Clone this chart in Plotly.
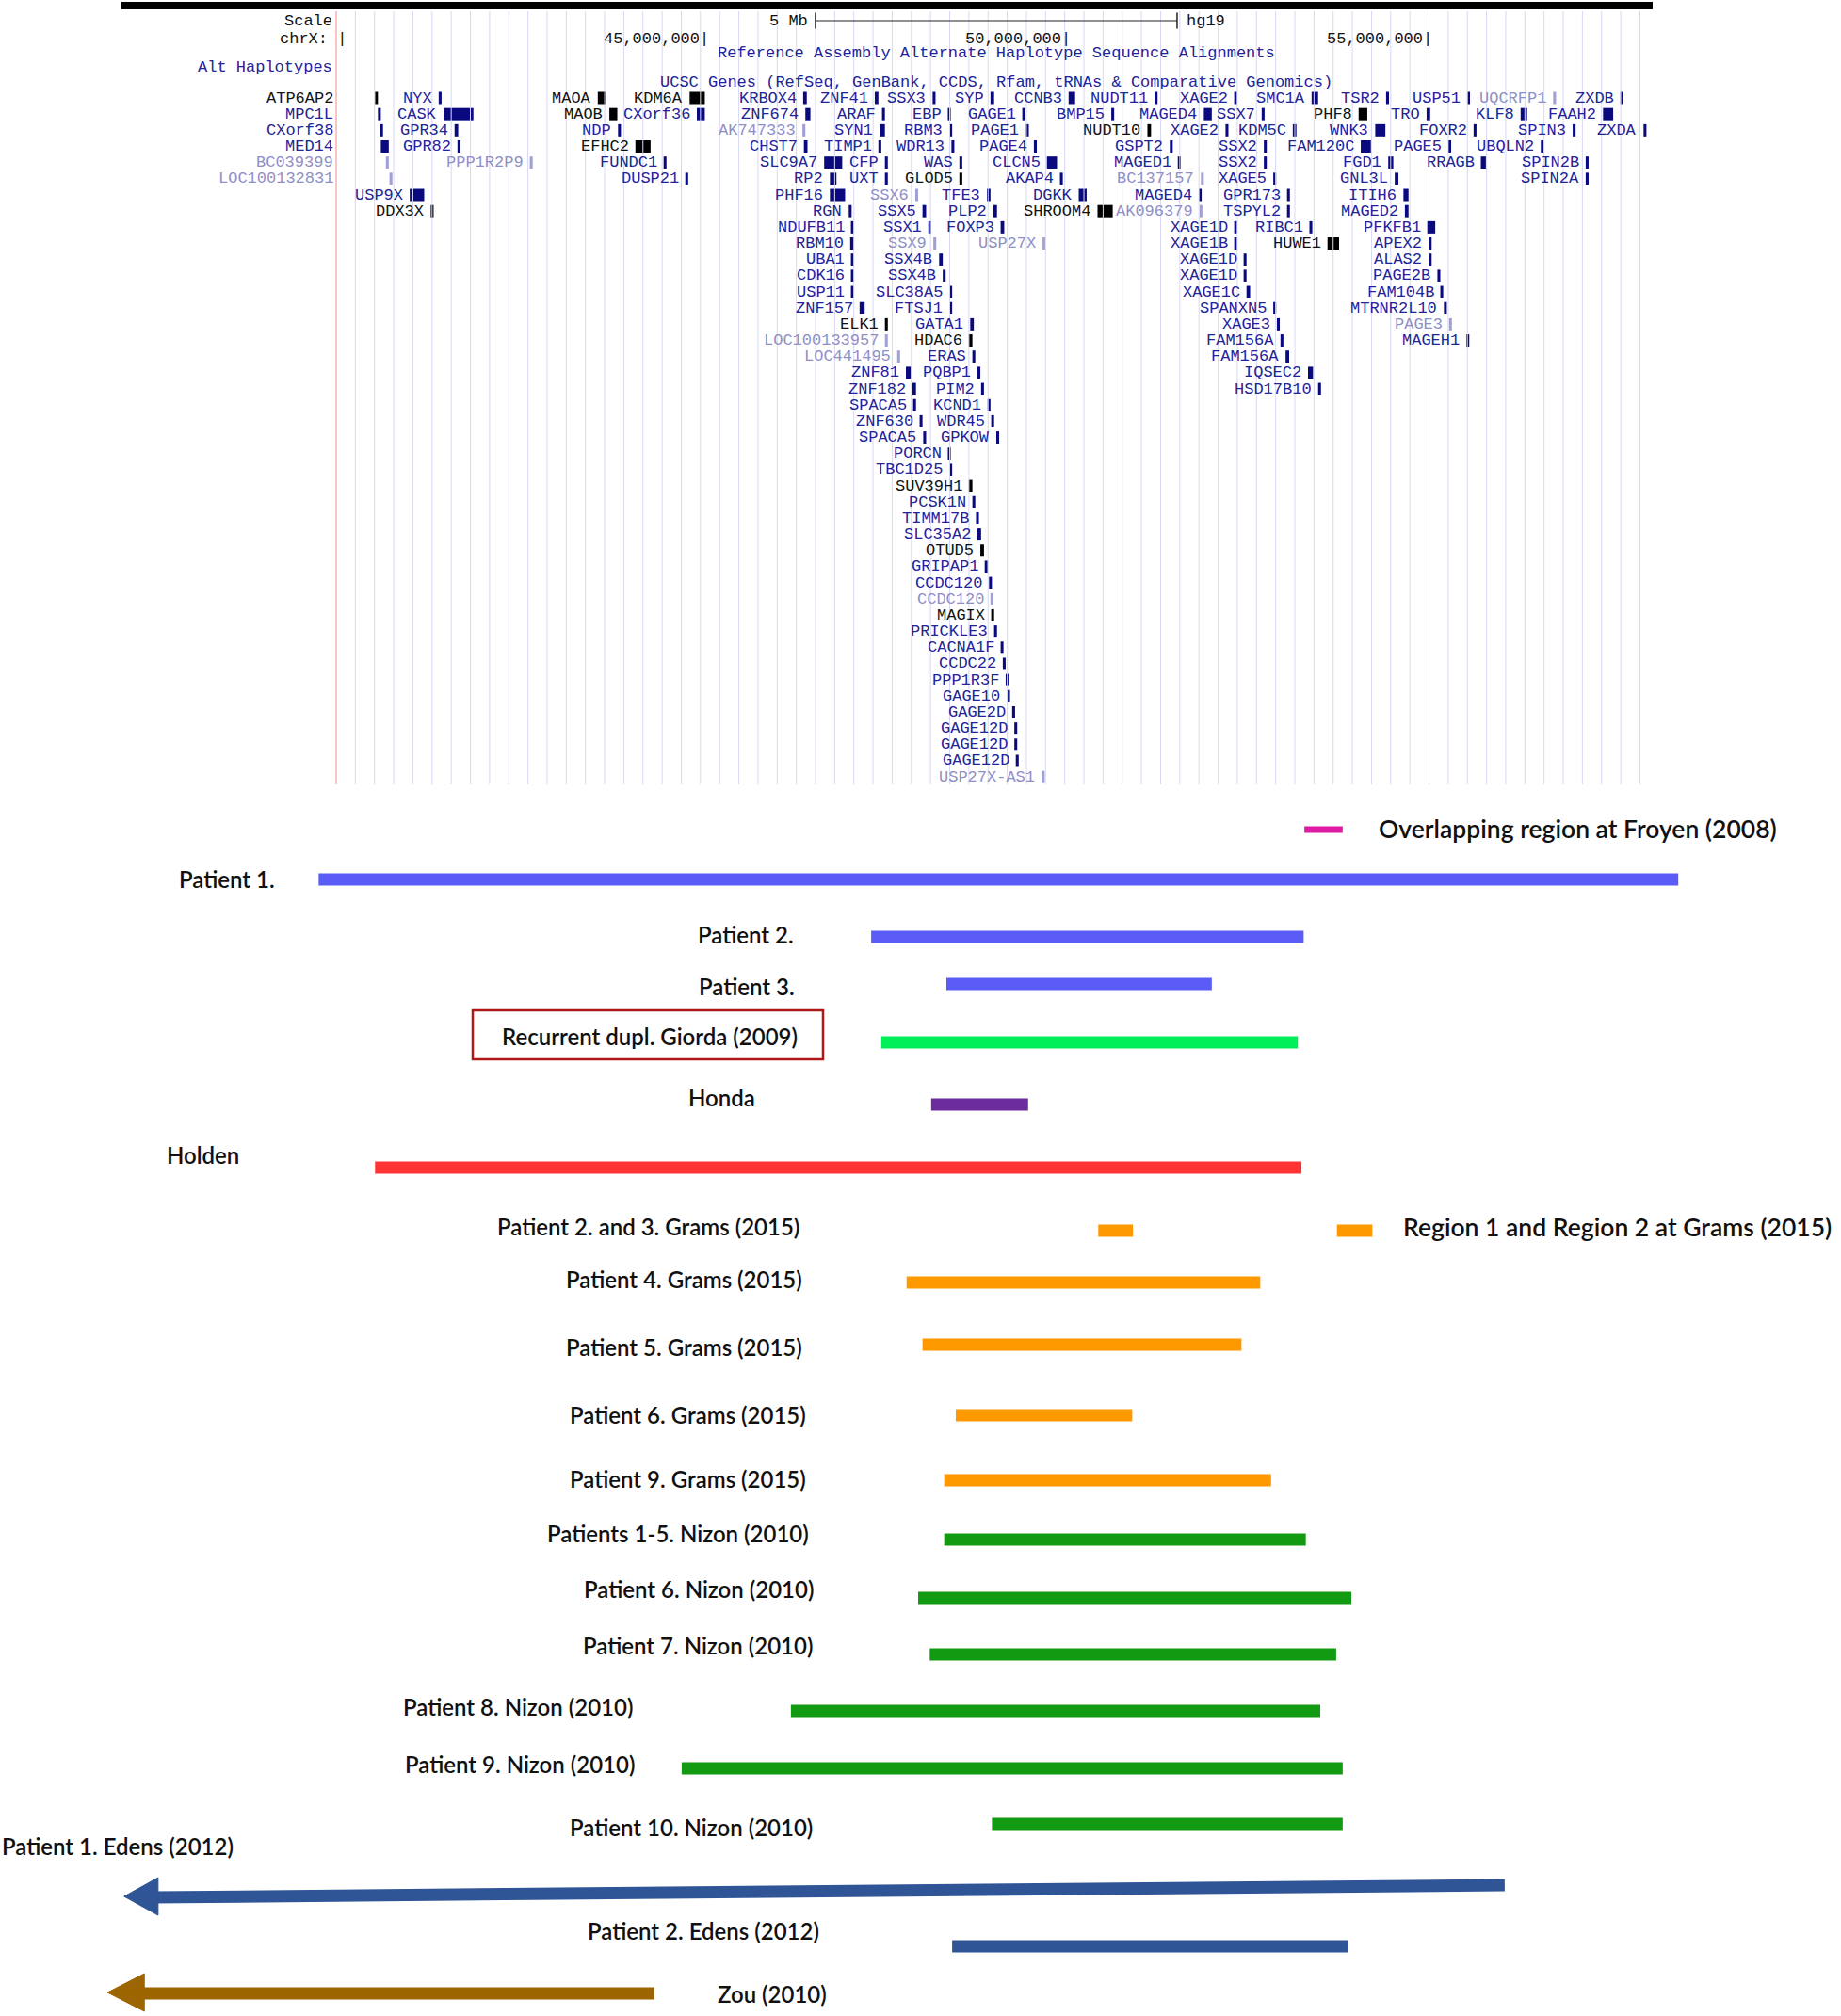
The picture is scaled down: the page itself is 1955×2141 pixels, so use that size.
import numpy as np
import plotly.graph_objects as go

W, H = 1955, 2141
PX_PER_MB = 76.8                      # browser scale: 5 Mb = 384 px
X_LEFT = 45 - 750 / PX_PER_MB         # chrX position (Mb) at the left picture edge
X_RIGHT = X_LEFT + W / PX_PER_MB

# ---------------- UCSC Genes track (hg19 chrX, Mb), one list per packed row ----------------
gene_names = [
    ["ATP6AP2", "NYX", "MAOA", "KDM6A", "KRBOX4", "ZNF41", "SSX3", "SYP", "CCNB3", "NUDT11", "XAGE2", "SMC1A", "TSR2", "USP51", "UQCRFP1", "ZXDB"],
    ["MPC1L", "CASK", "MAOB", "CXorf36", "ZNF674", "ARAF", "EBP", "GAGE1", "BMP15", "MAGED4", "SSX7", "PHF8", "TRO", "KLF8", "FAAH2"],
    ["CXorf38", "GPR34", "NDP", "AK747333", "SYN1", "RBM3", "PAGE1", "NUDT10", "XAGE2", "KDM5C", "WNK3", "FOXR2", "SPIN3", "ZXDA"],
    ["MED14", "GPR82", "EFHC2", "CHST7", "TIMP1", "WDR13", "PAGE4", "GSPT2", "SSX2", "FAM120C", "PAGE5", "UBQLN2"],
    ["BC039399", "PPP1R2P9", "FUNDC1", "SLC9A7", "CFP", "WAS", "CLCN5", "MAGED1", "SSX2", "FGD1", "RRAGB", "SPIN2B"],
    ["LOC100132831", "DUSP21", "RP2", "UXT", "GLOD5", "AKAP4", "BC137157", "XAGE5", "GNL3L", "SPIN2A"],
    ["USP9X", "PHF16", "SSX6", "TFE3", "DGKK", "MAGED4", "GPR173", "ITIH6"],
    ["DDX3X", "RGN", "SSX5", "PLP2", "SHROOM4", "AK096379", "TSPYL2", "MAGED2"],
    ["NDUFB11", "SSX1", "FOXP3", "XAGE1D", "RIBC1", "PFKFB1"],
    ["RBM10", "SSX9", "USP27X", "XAGE1B", "HUWE1", "APEX2"],
    ["UBA1", "SSX4B", "XAGE1D", "ALAS2"],
    ["CDK16", "SSX4B", "XAGE1D", "PAGE2B"],
    ["USP11", "SLC38A5", "XAGE1C", "FAM104B"],
    ["ZNF157", "FTSJ1", "SPANXN5", "MTRNR2L10"],
    ["ELK1", "GATA1", "XAGE3", "PAGE3"],
    ["LOC100133957", "HDAC6", "FAM156A", "MAGEH1"],
    ["LOC441495", "ERAS", "FAM156A"],
    ["ZNF81", "PQBP1", "IQSEC2"],
    ["ZNF182", "PIM2", "HSD17B10"],
    ["SPACA5", "KCND1"],
    ["ZNF630", "WDR45"],
    ["SPACA5", "GPKOW"],
    ["PORCN"], ["TBC1D25"], ["SUV39H1"], ["PCSK1N"], ["TIMM17B"], ["SLC35A2"], ["OTUD5"],
    ["GRIPAP1"], ["CCDC120"], ["CCDC120"], ["MAGIX"], ["PRICKLE3"], ["CACNA1F"], ["CCDC22"],
    ["PPP1R3F"], ["GAGE10"], ["GAGE2D"], ["GAGE12D"], ["GAGE12D"], ["GAGE12D"], ["USP27X-AS1"],
]
gene_starts = [
    [40.42, 41.30, 43.50, 44.77, 46.34, 47.33, 48.13, 48.93, 50.01, 51.20, 52.30, 53.37, 54.40, 55.52, 56.71, 57.64],
    [40.46, 41.37, 43.66, 44.87, 46.37, 47.43, 48.34, 49.37, 50.60, 51.88, 52.68, 54.02, 54.96, 56.26, 57.40],
    [40.49, 41.52, 43.78, 46.33, 47.40, 48.36, 49.42, 51.10, 52.18, 53.11, 54.25, 55.61, 56.98, 57.96],
    [40.50, 41.56, 44.02, 46.35, 47.38, 48.39, 49.53, 51.41, 52.71, 54.05, 55.26, 56.54],
    [40.57, 42.56, 44.41, 46.63, 47.47, 48.50, 49.71, 51.52, 52.71, 54.43, 55.71, 57.16],
    [40.62, 44.71, 46.71, 47.47, 48.50, 49.89, 51.84, 52.84, 54.52, 57.16],
    [40.90, 46.71, 47.89, 48.88, 50.15, 51.81, 53.03, 54.64],
    [41.19, 46.97, 47.99, 48.97, 50.41, 51.82, 53.03, 54.66],
    [47.00, 48.07, 49.07, 52.30, 53.34, 54.97],
    [46.99, 48.14, 49.65, 52.30, 53.59, 54.99],
    [47.00, 48.22, 52.43, 54.99],
    [47.00, 48.27, 52.43, 55.11],
    [47.00, 48.36, 52.47, 55.15],
    [47.12, 48.36, 52.84, 55.20],
    [47.47, 48.65, 52.89, 55.27],
    [47.47, 48.63, 52.94, 55.51],
    [47.64, 48.68, 53.01],
    [47.76, 48.75, 53.32],
    [47.85, 48.80, 53.46],
    [47.86, 48.89],
    [47.95, 48.94],
    [48.00, 49.01],
    [48.34], [48.36], [48.63], [48.68], [48.73], [48.75], [48.79],
    [48.85], [48.91], [48.93], [48.94], [48.98], [49.07], [49.10],
    [49.14], [49.16], [49.23], [49.26], [49.26], [49.28], [49.64],
]
gene_ends = [
    [40.46, 41.34, 43.61, 44.98, 46.39, 47.38, 48.17, 48.98, 50.10, 51.24, 52.34, 53.46, 54.44, 55.56, 56.75, 57.68],
    [40.50, 41.78, 43.77, 44.98, 46.44, 47.47, 48.38, 49.41, 50.64, 51.99, 52.72, 54.14, 55.01, 56.35, 57.54],
    [40.53, 41.57, 43.82, 46.37, 47.47, 48.40, 49.46, 51.15, 52.22, 53.16, 54.39, 55.65, 57.02, 58.00],
    [40.61, 41.60, 44.23, 46.40, 47.42, 48.43, 49.57, 51.45, 52.75, 54.19, 55.30, 56.58],
    [40.61, 42.60, 44.45, 46.88, 47.51, 48.54, 49.85, 51.56, 52.75, 54.50, 55.78, 57.20],
    [40.66, 44.75, 46.80, 47.51, 48.54, 49.93, 51.88, 52.88, 54.57, 57.20],
    [41.10, 46.92, 47.93, 48.93, 50.26, 51.85, 53.07, 54.71],
    [41.23, 47.01, 48.04, 49.02, 50.62, 51.86, 53.07, 54.71],
    [47.04, 48.11, 49.12, 52.34, 53.38, 55.08],
    [47.04, 48.18, 49.69, 52.34, 53.75, 55.03],
    [47.04, 48.27, 52.47, 55.03],
    [47.04, 48.31, 52.47, 55.15],
    [47.04, 48.40, 52.52, 55.19],
    [47.19, 48.40, 52.88, 55.24],
    [47.51, 48.70, 52.93, 55.31],
    [47.51, 48.68, 52.98, 55.55],
    [47.68, 48.72, 53.06],
    [47.83, 48.79, 53.39],
    [47.90, 48.84, 53.50],
    [47.90, 48.93],
    [47.99, 48.98],
    [48.04, 49.05],
    [48.38], [48.40], [48.68], [48.72], [48.77], [48.80], [48.84],
    [48.89], [48.95], [48.97], [48.98], [49.02], [49.11], [49.14],
    [49.18], [49.20], [49.27], [49.30], [49.30], [49.32], [49.68],
]
# k = black (known structure), n = dark blue (RefSeq), l = light (non-coding / other)
gene_types = [
    "knkknnnnnnnnnnln", "nnknnnnnnnnknnn", "nnnlnnnknnnnnn", "nnknnnnnnnnn", "llnnnnnnnnnn",
    "lnnnknlnnn", "nnlnnnnn", "knnnklnn", "nnnnnn", "nllnkn", "nnnn", "nnnn", "nnnn", "nnnn",
    "knnl", "lknn", "lnn", "nnn", "nnn", "nn", "nn", "nn",
    "n", "n", "k", "n", "n", "n", "k", "n", "n", "l", "k", "n", "n", "n", "n", "n", "n", "n", "n", "n", "l",
]
left_column_genes = ["ATP6AP2", "MPC1L", "CXorf38", "MED14", "BC039399", "LOC100132831"]

scale_ticks = [45, 50, 55]
scale_tick_text = ["45,000,000", "50,000,000", "55,000,000"]
scale_bar_start, scale_bar_mb = 46.51, 5

# ---------------- duplication intervals (Mb) ----------------
cnv_names = ["Froyen (2008) overlap", "Patient 1.", "Patient 2.", "Patient 3.", "Giorda (2009)", "Honda",
             "Holden", "Grams region 1", "Grams region 2", "Grams P4", "Grams P5", "Grams P6", "Grams P9",
             "Nizon P1-5", "Nizon P6", "Nizon P7", "Nizon P8", "Nizon P9", "Nizon P10", "Edens P2"]
cnv_start = [53.27, 39.64, 47.28, 48.32, 47.42, 48.11, 40.42, 50.42, 53.72, 47.77, 47.99, 48.45, 48.29,
             48.29, 47.93, 48.09, 46.17, 44.66, 48.95, 48.40]
cnv_end = [53.80, 58.44, 53.26, 51.99, 53.18, 49.45, 53.23, 50.90, 54.21, 52.66, 52.40, 50.89, 52.81,
           53.29, 53.92, 53.71, 53.49, 53.80, 53.80, 53.88]
cnv_group = ["froyen", "patient", "patient", "patient", "giorda", "honda", "holden", "grams", "grams",
             "grams", "grams", "grams", "grams", "nizon", "nizon", "nizon", "nizon", "nizon", "nizon", "edens"]

# open-ended intervals drawn as arrows pointing left
arrow_names = ["Edens P1", "Zou (2010)"]
arrow_tip = [36.95, 36.72]
arrow_end = [56.04, 44.28]
arrow_group = ["edens", "zou"]

# ---------------- layout / style ----------------
GROUP_COLORS = {"froyen": "#df1ba6", "patient": "#5b5bf6", "giorda": "#00ee58", "honda": "#6b2c9e",
                "holden": "#ff3333", "grams": "#ff9900", "nizon": "#129a12", "edens": "#2f5597",
                "zou": "#9c6500"}
TEXT_COLORS = {"k": "#111111", "n": "#22229a", "l": "#8f8fc6"}
GLYPH_COLORS = {"k": "#000000", "n": "#0a0a7e", "l": "#a0a0d4"}
MONO = "Liberation Mono"
SANS = "Lato"
MONO_SIZE = 17

ROW0_Y, ROW_STEP = 104, 17.17
TRACK_TOP, TRACK_BOTTOM = 12, 833
GUIDE_START, GUIDE_STEP, GUIDE_COUNT = 39.883, 0.2651, 69

cnv_y = [881, 934, 995, 1045, 1107, 1173, 1240, 1307, 1307, 1362, 1428, 1503, 1572,
         1635, 1697, 1757, 1817, 1878, 1937, 2067]
cnv_thick = [7] + [13] * 19
arrow_y = [(2015, 2002), (2117, 2117)]   # (left, right) centre of the shaft
arrow_head = [(0.47, 20), (0.51, 20)]    # head length (Mb), half height (px)

labels = [
    ("Overlapping region at Froyen (2008)", 1462, 880, "left", 26.5),
    ("Patient 1.", 294, 933, "right", 24),
    ("Patient 2.", 845, 992, "right", 24),
    ("Patient 3.", 846, 1047, "right", 24),
    ("Recurrent dupl. Giorda (2009)", 849, 1100, "right", 24),
    ("Honda", 804, 1165, "right", 24),
    ("Holden", 256, 1226, "right", 24),
    ("Patient 2. and 3. Grams (2015)", 851, 1302, "right", 24),
    ("Region 1 and Region 2 at Grams (2015)", 1488, 1303, "left", 26.5),
    ("Patient 4. Grams (2015)", 854, 1358, "right", 24),
    ("Patient 5. Grams (2015)", 854, 1430, "right", 24),
    ("Patient 6. Grams (2015)", 858, 1502, "right", 24),
    ("Patient 9. Grams (2015)", 858, 1570, "right", 24),
    ("Patients 1-5. Nizon (2010)", 861, 1628, "right", 24),
    ("Patient 6. Nizon (2010)", 866, 1687, "right", 24),
    ("Patient 7. Nizon (2010)", 865, 1747, "right", 24),
    ("Patient 8. Nizon (2010)", 674, 1812, "right", 24),
    ("Patient 9. Nizon (2010)", 676, 1873, "right", 24),
    ("Patient 10. Nizon (2010)", 865, 1940, "right", 24),
    ("Patient 1. Edens (2012)", 0, 1960, "left", 24),
    ("Patient 2. Edens (2012)", 872, 2050, "right", 24),
    ("Zou (2010)", 760, 2117, "left", 24),
]

fig = go.Figure()

# browser guide lines + red left border line
guides = GUIDE_START + GUIDE_STEP * np.arange(GUIDE_COUNT)
gx, gy = [], []
for g in guides[1:]:
    gx += [g, g, None]
    gy += [TRACK_TOP, TRACK_BOTTOM, None]
fig.add_trace(go.Scatter(x=gx, y=gy, mode="lines", line=dict(color="#d8d8f4", width=1), hoverinfo="skip"))
fig.add_trace(go.Scatter(x=[guides[0], guides[0]], y=[TRACK_TOP, TRACK_BOTTOM], mode="lines",
                         line=dict(color="#f6a4a4", width=1.3), hoverinfo="skip"))

# flatten genes
flat = []
for r, names in enumerate(gene_names):
    for j, name in enumerate(names):
        flat.append((name, ROW0_Y + ROW_STEP * r, gene_starts[r][j], gene_ends[r][j], gene_types[r][j]))

for t in ["l", "n", "k"]:
    sel = [g for g in flat if g[4] == t]
    fig.add_trace(go.Bar(
        orientation="h",
        y=[g[1] for g in sel],
        base=[g[2] for g in sel],
        x=[g[3] - g[2] for g in sel],
        width=13,
        marker=dict(color=GLYPH_COLORS[t], line=dict(width=0)),
        hovertext=[g[0] for g in sel],
        hoverinfo="text",
    ))

annotations = []
for name, y, start, end, t in flat:
    font = dict(family=MONO, size=MONO_SIZE, color=TEXT_COLORS[t])
    if name in left_column_genes and y < ROW0_Y + ROW_STEP * 6:
        annotations.append(dict(x=355 / W, xref="paper", y=y, yref="y", text=name, showarrow=False,
                                xanchor="right", yanchor="middle", borderpad=0, font=font))
    else:
        annotations.append(dict(x=start, xref="x", y=y, yref="y", text=name, showarrow=False,
                                xanchor="right", yanchor="middle", xshift=-6, borderpad=0, font=font))

# browser header
hdr_black = dict(family=MONO, size=MONO_SIZE, color="#111111")
hdr_blue = dict(family=MONO, size=MONO_SIZE, color="#22229a")
annotations += [
    dict(x=355 / W, xref="paper", y=22, yref="y", text="Scale", xanchor="right", showarrow=False, font=hdr_black),
    dict(x=370 / W, xref="paper", y=41, yref="y", text="chrX: |", xanchor="right", showarrow=False, font=hdr_black),
    dict(x=355 / W, xref="paper", y=71, yref="y", text="Alt Haplotypes", xanchor="right", showarrow=False, font=hdr_blue),
    dict(x=1058 / W, xref="paper", y=56, yref="y", xanchor="center", showarrow=False, font=hdr_blue,
         text="Reference Assembly Alternate Haplotype Sequence Alignments"),
    dict(x=1058 / W, xref="paper", y=87, yref="y", xanchor="center", showarrow=False, font=hdr_blue,
         borderpad=0, text="UCSC Genes (RefSeq, GenBank, CCDS, Rfam, tRNAs &amp; Comparative Genomics)"),
    dict(x=scale_bar_start, xref="x", y=22, yref="y", text=f"{scale_bar_mb} Mb", xanchor="right", xshift=-6,
         showarrow=False, font=hdr_black),
    dict(x=scale_bar_start + scale_bar_mb, xref="x", y=22, yref="y", text="hg19", xanchor="left", xshift=8,
         showarrow=False, font=hdr_black),
]
for tk, tt in zip(scale_ticks, scale_tick_text):
    annotations.append(dict(x=tk, xref="x", y=41, yref="y", text=tt + "|", xanchor="right", xshift=5,
                            showarrow=False, font=hdr_black))

fig.add_trace(go.Scatter(
    x=[scale_bar_start, scale_bar_start + scale_bar_mb], y=[22, 22], mode="lines+markers",
    line=dict(color="#222222", width=1.2),
    marker=dict(symbol="line-ns", size=12, line=dict(color="#222222", width=1.5)),
    hoverinfo="skip",
))

# duplication bars
fig.add_trace(go.Bar(
    orientation="h",
    y=cnv_y,
    base=cnv_start,
    x=[e - s for s, e in zip(cnv_start, cnv_end)],
    width=cnv_thick,
    marker=dict(color=[GROUP_COLORS[g] for g in cnv_group], line=dict(width=0)),
    hovertext=cnv_names,
    hoverinfo="text",
))

# open-ended arrows
for name, tip, end, grp, (yl, yr), (hl, hh) in zip(arrow_names, arrow_tip, arrow_end, arrow_group, arrow_y, arrow_head):
    col = GROUP_COLORS[grp]
    fig.add_trace(go.Scatter(x=[tip + hl * 0.8, end], y=[yl, yr], mode="lines",
                             line=dict(color=col, width=13), hoverinfo="skip"))
    fig.add_trace(go.Scatter(x=[tip, tip + hl, tip + hl, tip], y=[yl - 1, yl - 1 - hh, yl - 1 + hh, yl - 1],
                             mode="lines", fill="toself", fillcolor=col, line=dict(color=col, width=1),
                             hovertext=name, hoverinfo="text"))

for text, px, py, side, size in labels:
    annotations.append(dict(x=px / W, xref="paper", y=py, yref="y", text=text, showarrow=False,
                            xanchor=side, yanchor="middle",
                            font=dict(family=SANS, size=size, color="#111111", weight=600)))

shapes = [
    dict(type="rect", xref="paper", yref="y", x0=129 / W, x1=1755 / W, y0=2, y1=10,
         fillcolor="#000000", line=dict(width=0)),
    dict(type="rect", xref="paper", yref="y", x0=502 / W, x1=874 / W, y0=1073, y1=1125,
         fillcolor="rgba(0,0,0,0)", line=dict(color="#b01818", width=2.5)),
]

fig.update_layout(
    width=W,
    height=H,
    margin=dict(l=0, r=0, t=0, b=0),
    paper_bgcolor="white",
    plot_bgcolor="white",
    showlegend=False,
    barmode="overlay",
    xaxis=dict(range=[X_LEFT, X_RIGHT], visible=False, fixedrange=True),
    yaxis=dict(range=[H, 0], visible=False, fixedrange=True),
    annotations=annotations,
    shapes=shapes,
)

fig.write_html("out.html", config={"displayModeBar": False},
               post_script="document.body.style.margin='0';")
